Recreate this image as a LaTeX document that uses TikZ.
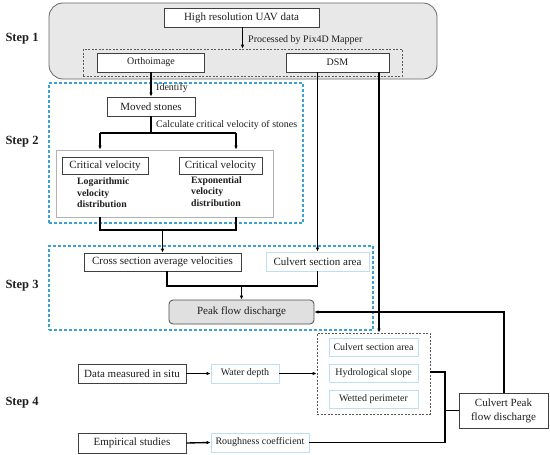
\documentclass[tikz,border=0pt]{standalone}
\usepackage{fontspec}
\setmainfont{Liberation Serif}
\usetikzlibrary{arrows.meta}
\definecolor{bdash}{RGB}{60,160,210}
\definecolor{lblue}{RGB}{190,222,242}
\definecolor{txt}{RGB}{30,30,30}
\begin{document}
\begin{tikzpicture}[x=1pt,y=-1pt,
  bx/.style={draw=black!75, line width=0.8pt, fill=white, inner sep=0pt, text=txt, font=\fontsize{11}{12}\selectfont},
  lbx/.style={draw=lblue, line width=0.9pt, fill=white, inner sep=0pt, text=txt, font=\fontsize{11}{12}\selectfont},
  sml/.style={font=\fontsize{10}{11}\selectfont},
  conn/.style={line width=1.35pt, black},
  arr/.style={conn, -{Latex[length=4pt,width=3.6pt]}},
  bluedash/.style={draw=bdash, line width=1.1pt, dash pattern=on 3pt off 2pt, inner sep=0pt},
  graydash/.style={draw=black!65, line width=0.8pt, dash pattern=on 2pt off 1.5pt, inner sep=0pt},
  steplbl/.style={font=\bfseries\fontsize{12.5}{14}\selectfont, anchor=west, text=txt},
  lbl/.style={font=\fontsize{10}{11}\selectfont, anchor=west, text=txt, inner sep=0pt},
  bld/.style={font=\bfseries\fontsize{9.8}{11.5}\selectfont, align=left, anchor=north west, inner sep=0pt, text=txt}
]
\useasboundingbox (0,0) rectangle (550,455);

% Step labels
\node[steplbl] (st1) at (2,39) {Step 1};
\node[steplbl] (st2) at (2,142) {Step 2};
\node[steplbl] (st3) at (2,286) {Step 3};
\node[steplbl] (st4) at (2,403) {Step 4};

% Step 1
\node[draw=black!60, fill=black!9, line width=0.8pt, rounded corners=14pt, minimum width=388pt, minimum height=76pt, inner sep=0pt] (s1box) at (243,41) {};
\node[graydash, minimum width=319pt, minimum height=27pt] (procbox) at (242.5,62.5) {};
\node[bx, minimum width=155pt, minimum height=19pt] (uav) at (241.5,17.5) {High resolution UAV data};
\node[bx, sml, minimum width=107pt, minimum height=19pt] (ortho) at (151,62.5) {Orthoimage};
\node[bx, sml, minimum width=103pt, minimum height=19pt] (dsm) at (337.5,62.5) {DSM};
\draw[arr] (uav.south -| procbox.north) -- (procbox.north);
\node[lbl] (proclbl) at (248,40.5) {Processed by Pix4D Mapper};

% Step 2
\node[bluedash, minimum width=254pt, minimum height=140pt] (s2box) at (176,153) {};
\node[draw=black!30, line width=0.8pt, fill=white, minimum width=217pt, minimum height=67pt, inner sep=0pt] (inner) at (164.5,183.5) {};
\node[bx, minimum width=88pt, minimum height=19pt] (moved) at (151,106.5) {Moved stones};
\node[bx, minimum width=86pt, minimum height=17pt] (cv1) at (105,165.5) {Critical velocity};
\node[bx, minimum width=83pt, minimum height=17pt] (cv2) at (220.5,165.5) {Critical velocity};
\node[bld] (logd) at (77,177.5) {Logarithmic\\velocity\\distribution};
\node[bld] (expd) at (191,176) {Exponential\\velocity\\distribution};
\draw[arr] (ortho.south) -- (moved.north);
\node[lbl] (idlbl) at (156,88.5) {Identify};
\coordinate (splitL) at (100,133);
\coordinate (splitR) at (236,133);
\draw[conn] (moved.south) -- (moved.south |- splitL);
\draw[conn] (splitL) -- (splitR);
\draw[arr] (splitL) -- (splitL |- inner.north);
\draw[arr] (splitR) -- (splitR |- inner.north);
\node[lbl] (calclbl) at (156,125) {Calculate critical velocity of stones};
\coordinate (joinL) at (100,230);
\coordinate (joinR) at (236,230);
\draw[conn] (joinL |- inner.south) -- (joinL) -- (joinR) -- (joinR |- inner.south);

% Step 3
\node[bluedash, minimum width=324pt, minimum height=84pt] (s3box) at (211,288) {};
\node[bx, minimum width=157pt, minimum height=18pt] (cross) at (162.5,262) {Cross section average velocities};
\node[lbx, minimum width=103pt, minimum height=19pt] (culv3) at (317.5,261.5) {Culvert section area};
\node[draw=black!70, line width=0.8pt, fill=black!12, rounded corners=4pt, minimum width=145pt, minimum height=24pt, inner sep=0pt, text=txt, font=\fontsize{11}{12}\selectfont] (peak) at (241.5,312) {Peak flow discharge};
\draw[arr] (cross.north |- joinL) -- (cross.north);
\draw[arr] (dsm.south -| culv3.north) -- (culv3.north);
\coordinate (m3L) at (167,286);
\coordinate (m3R) at (317.5,286);
\draw[conn] (m3L |- cross.south) -- (m3L) -- (m3R) -- (culv3.south);
\draw[arr] (peak.north |- m3L) -- (peak.north);

% Step 4
\node[graydash, minimum width=113pt, minimum height=81pt] (s4box) at (373.5,373.5) {};
\node[lbx, sml, minimum width=89pt, minimum height=18pt] (culv4) at (373.5,347) {Culvert section area};
\node[lbx, sml, minimum width=89pt, minimum height=18pt] (hydro) at (373.5,373) {Hydrological slope};
\node[lbx, sml, minimum width=89pt, minimum height=18pt] (wetted) at (373.5,399) {Wetted perimeter};
\node[bx, minimum width=108pt, minimum height=19pt] (data) at (132,373.5) {Data measured in situ};
\node[lbx, sml, minimum width=68pt, minimum height=19pt] (water) at (245,373.5) {Water depth};
\node[bx, minimum width=108pt, minimum height=20pt] (emp) at (132,443) {Empirical studies};
\node[lbx, sml, minimum width=98pt, minimum height=19pt] (rough) at (260,442.5) {Roughness coefficient};
\node[bx, font=\fontsize{11}{14}\selectfont, align=center, minimum width=89pt, minimum height=35pt] (cpeak) at (503.5,410.5) {Culvert Peak\\flow discharge};
\coordinate (d2) at (379,72);
\draw[arr] (d2) -- (d2 |- s4box.north);
\draw[arr] (data.east) -- (water.west);
\draw[arr] (water.east) -- (water.east -| s4box.west);
\draw[arr] (emp.east) -- (rough.west);
\coordinate (bus) at (445,372);
\draw[conn] (s4box.east |- bus) -- (bus) -- (bus |- rough.east) -- (rough.east);
\draw[conn] (bus |- cpeak.west) -- (cpeak.west);
\coordinate (up) at (504,312);
\draw[arr] (cpeak.north -| up) -- (up) -- (peak.east);
\end{tikzpicture}
\end{document}
